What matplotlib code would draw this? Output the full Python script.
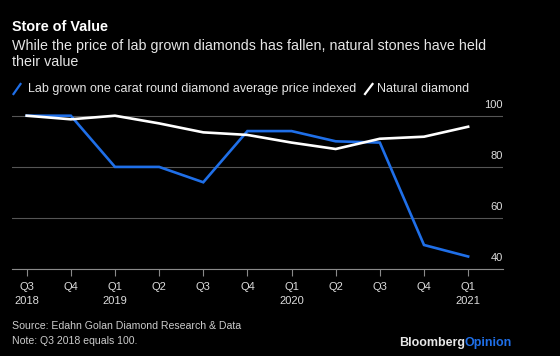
import matplotlib
matplotlib.use("Agg")
import matplotlib.pyplot as plt
from matplotlib.lines import Line2D
import matplotlib.transforms as mtransforms

quarters = ["Q3", "Q4", "Q1", "Q2", "Q3", "Q4", "Q1", "Q2", "Q3", "Q4", "Q1"]
years = ["2018", "", "2019", "", "", "", "2020", "", "", "", "2021"]
lab_grown = [100, 100, 80, 80, 74, 94, 94, 90, 89.5, 49.5, 45]
natural = [100, 98.6, 100, 97, 93.5, 92.5, 89.5, 87, 91, 91.8, 95.7]
yticks = [40, 60, 80, 100]

plt.rcParams['font.family'] = ['Liberation Sans', 'DejaVu Sans']
BG = "black"
BLUE = "#1f6fe8"

fig = plt.figure(figsize=(5.6, 3.56), dpi=100, facecolor=BG)
ax = fig.add_axes([12/560, 1-269.3/356, (503-12)/560, (269.3-110.6)/356])
ax.set_facecolor(BG)

x = list(range(len(quarters)))
ax.plot(x, lab_grown, color=BLUE, lw=1.9, solid_joinstyle='miter', zorder=3)
ax.plot(x, natural, color="white", lw=1.9, solid_joinstyle='miter', zorder=4)

ax.set_xlim(-0.333, 10.79)
ax.set_ylim(40, 102)

for s in ["top", "right", "left"]:
    ax.spines[s].set_visible(False)
ax.spines["bottom"].set_color("#8a8a8a")
ax.spines["bottom"].set_linewidth(0.8)

ax.set_yticks(yticks)
ax.grid(axis="y", color="#555555", lw=0.8)
ax.set_axisbelow(True)
ax.yaxis.tick_right()
ax.tick_params(axis="y", length=0, pad=0, labelsize=8, labelcolor="#dddddd")
offset = mtransforms.ScaledTranslation(0, 6/100, fig.dpi_scale_trans)
for lbl in ax.get_yticklabels():
    lbl.set_horizontalalignment("right")
    lbl.set_verticalalignment("bottom")
    lbl.set_transform(lbl.get_transform() + offset)

ax.set_xticks(x)
ax.set_xticklabels([f"{q}\n{y}" if y else q for q, y in zip(quarters, years)],
                   linespacing=1.55, va="top")
ax.tick_params(axis="x", length=5, width=0.8, color="#8a8a8a", pad=4,
               labelsize=8, labelcolor="#dddddd")
for lbl in ax.get_xticklabels():
    lbl.set_verticalalignment("top")

# Title and subtitle
fig.text(12/560, 1-27/356, "Store of Value", color="white", fontsize=10.4,
         fontweight="bold", va="center", ha="left")
fig.text(12/560, 1-54/356,
         "While the price of lab grown diamonds has fallen, natural stones have held\ntheir value",
         color="#e6e6e6", fontsize=10.3, va="center", ha="left", linespacing=1.25)

# Legend
ly = 1-89/356
fig.add_artist(Line2D([13.5/560, 20.5/560], [1-94/356, 1-84/356], color=BLUE, lw=1.6))
fig.text(28/560, ly, "Lab grown one carat round diamond average price indexed",
         color="#e6e6e6", fontsize=9, va="center", ha="left")
fig.add_artist(Line2D([365/560, 372.5/560], [1-94/356, 1-84/356], color="white", lw=1.6))
fig.text(377/560, ly, "Natural diamond", color="#e6e6e6", fontsize=9,
         va="center", ha="left")

# Footer
fig.text(12/560, 1-326/356, "Source: Edahn Golan Diamond Research & Data",
         color="#cccccc", fontsize=7.6, va="center", ha="left")
fig.text(12/560, 1-341/356, "Note: Q3 2018 equals 100.",
         color="#cccccc", fontsize=7.6, va="center", ha="left")
t2 = fig.text(511.5/560, 1-343/356, "Opinion", color=BLUE, fontsize=9,
              fontweight="bold", va="center", ha="right")
fig.canvas.draw()
bb = t2.get_window_extent()
fig.text((bb.x0 + 1)/560, 1-343/356, "Bloomberg", color="#e6e6e6", fontsize=9,
         fontweight="bold", va="center", ha="right")

fig.savefig("out.png", dpi=100, facecolor=BG)
